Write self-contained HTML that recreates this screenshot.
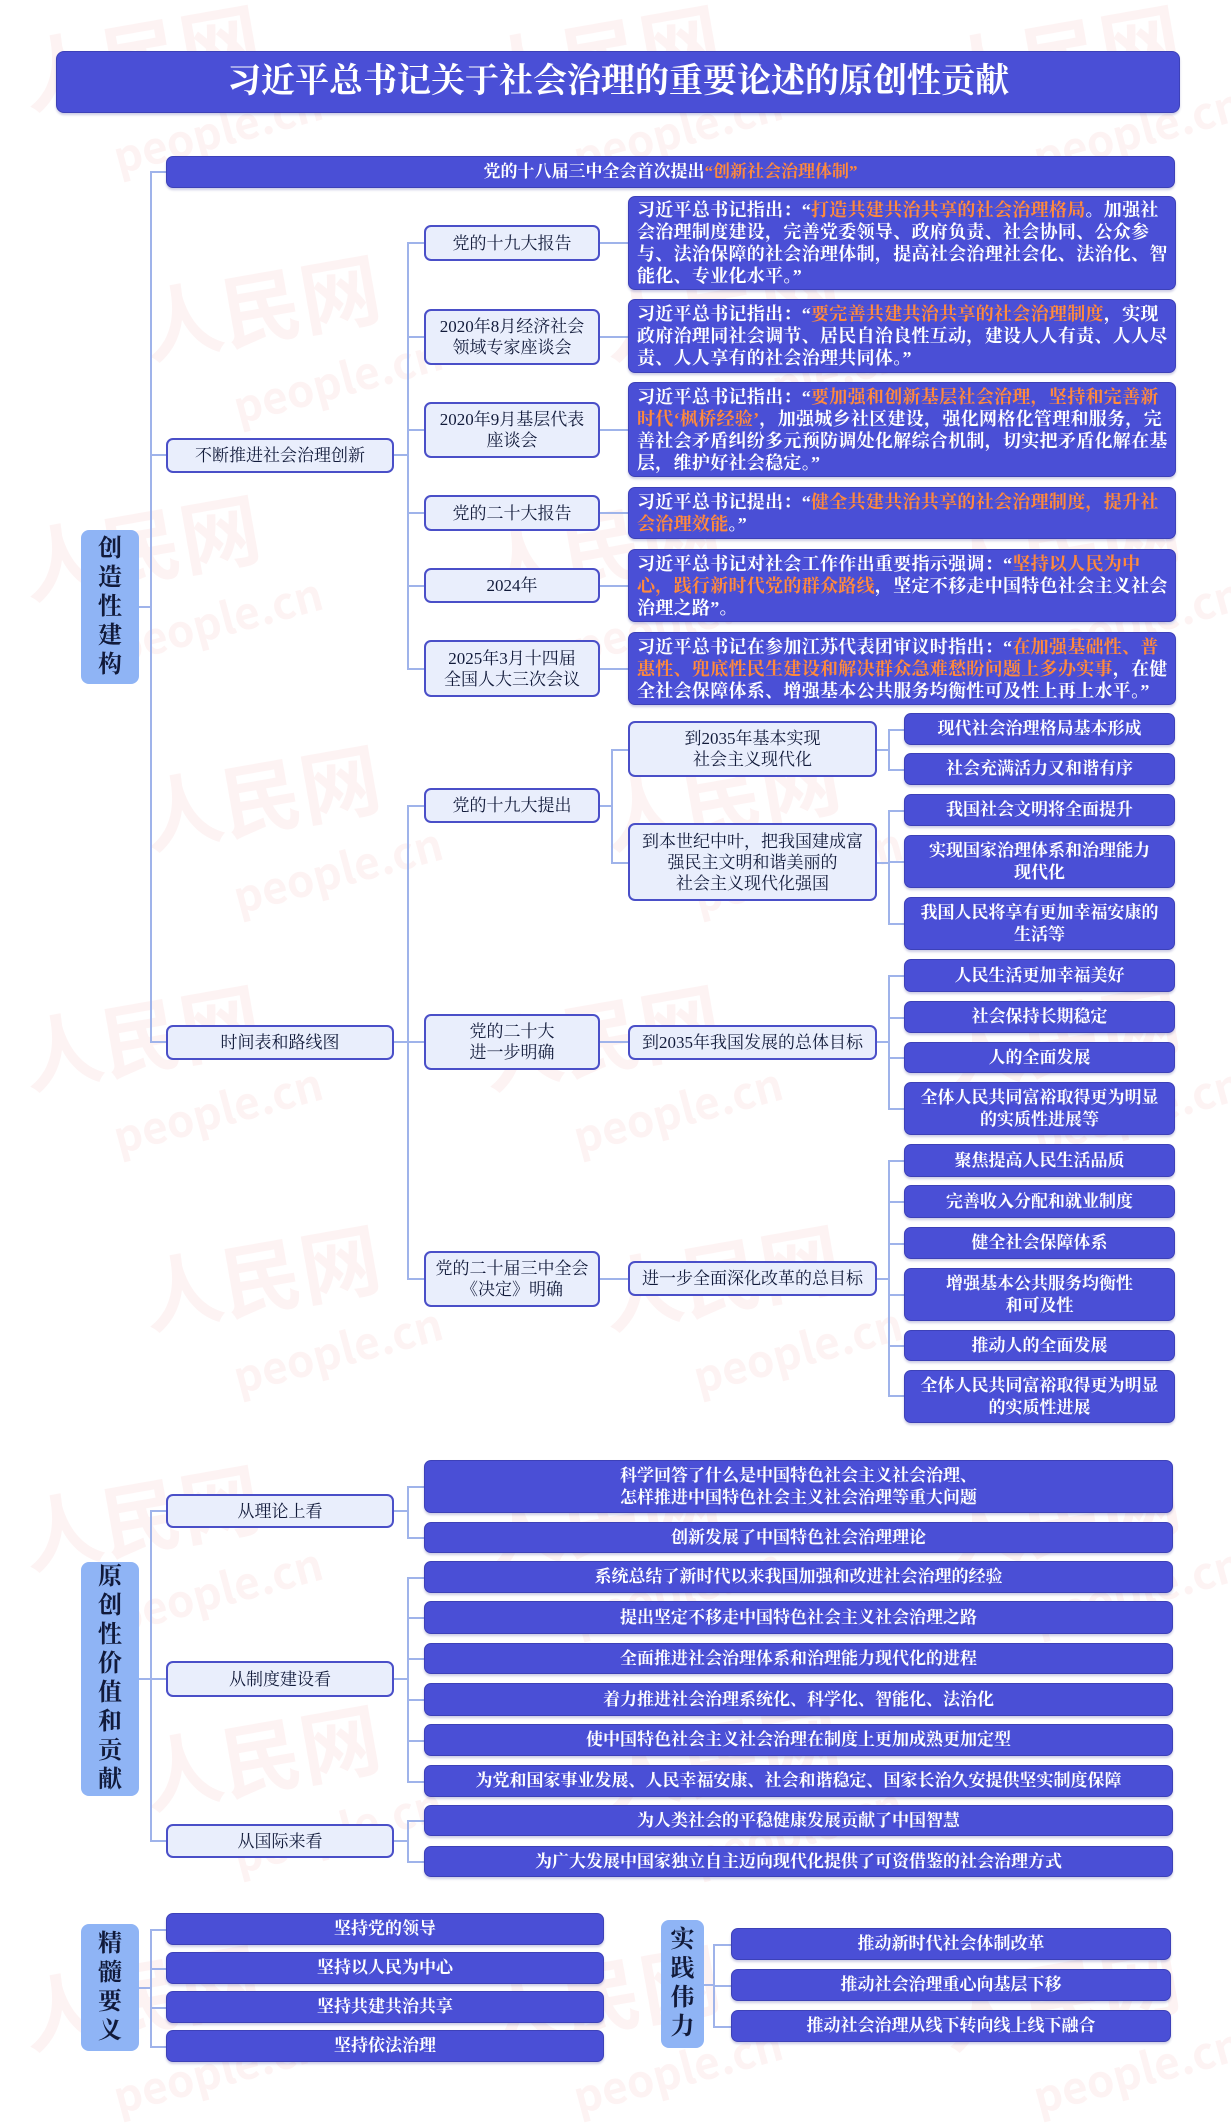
<!DOCTYPE html>
<html><head><meta charset="utf-8">
<style>
*{margin:0;padding:0;box-sizing:border-box}
body{width:1231px;height:2114px;background:#fff;position:relative;overflow:hidden;font-family:"Liberation Serif","Noto Serif CJK SC",serif;}
.wm{position:absolute;color:rgba(225,90,90,0.07);font-family:"Noto Sans CJK SC",sans-serif;font-weight:bold;white-space:nowrap;}
.wm .a{font-size:80px;display:block;transform:rotate(-10deg)}
.wm .b{font-size:44px;display:block;transform:rotate(-15deg);margin-left:90px;margin-top:-10px}
.d,.l,.q{position:absolute;display:flex;align-items:center;justify-content:center;text-align:center;font-weight:bold;}
.d{background:#4a4fd6;border:1.5px solid #3d41b8;border-radius:7px;color:#fff;font-size:17px;line-height:22px;box-shadow:0 2px 2px rgba(60,60,150,0.25)}
.l{background:#e9eefc;border:2px solid #4a4fc8;border-radius:7px;color:#111a3a;font-size:17px;line-height:21px;font-weight:normal}
.q{background:#4a4fd6;border:1.5px solid #3d41b8;border-radius:7px;color:#fff;font-size:18px;letter-spacing:0.3px;line-height:22px;text-align:left;justify-content:flex-start;padding:0 5px 0 8px;box-shadow:0 2px 2px rgba(60,60,150,0.25)}
.o{color:#ff8a3d}
.lab{position:absolute;background:#8fb4f5;border-radius:8px;color:#111a3a;font-size:24px;font-weight:bold;display:flex;align-items:center;justify-content:center;text-align:center;line-height:29px;width:58px}
.h,.v{position:absolute;background:#9fb3ea}
.h{height:2px}.v{width:2px}
</style></head><body>

<div class="wm" style="left:20px;top:-10px"><span class="a">人民网</span><span class="b">people.cn</span></div>
<div class="wm" style="left:480px;top:-10px"><span class="a">人民网</span><span class="b">people.cn</span></div>
<div class="wm" style="left:940px;top:-10px"><span class="a">人民网</span><span class="b">people.cn</span></div>
<div class="wm" style="left:140px;top:240px"><span class="a">人民网</span><span class="b">people.cn</span></div>
<div class="wm" style="left:600px;top:240px"><span class="a">人民网</span><span class="b">people.cn</span></div>
<div class="wm" style="left:20px;top:480px"><span class="a">人民网</span><span class="b">people.cn</span></div>
<div class="wm" style="left:480px;top:480px"><span class="a">人民网</span><span class="b">people.cn</span></div>
<div class="wm" style="left:940px;top:480px"><span class="a">人民网</span><span class="b">people.cn</span></div>
<div class="wm" style="left:140px;top:730px"><span class="a">人民网</span><span class="b">people.cn</span></div>
<div class="wm" style="left:600px;top:730px"><span class="a">人民网</span><span class="b">people.cn</span></div>
<div class="wm" style="left:20px;top:970px"><span class="a">人民网</span><span class="b">people.cn</span></div>
<div class="wm" style="left:480px;top:970px"><span class="a">人民网</span><span class="b">people.cn</span></div>
<div class="wm" style="left:940px;top:970px"><span class="a">人民网</span><span class="b">people.cn</span></div>
<div class="wm" style="left:140px;top:1210px"><span class="a">人民网</span><span class="b">people.cn</span></div>
<div class="wm" style="left:600px;top:1210px"><span class="a">人民网</span><span class="b">people.cn</span></div>
<div class="wm" style="left:20px;top:1450px"><span class="a">人民网</span><span class="b">people.cn</span></div>
<div class="wm" style="left:480px;top:1450px"><span class="a">人民网</span><span class="b">people.cn</span></div>
<div class="wm" style="left:940px;top:1450px"><span class="a">人民网</span><span class="b">people.cn</span></div>
<div class="wm" style="left:140px;top:1690px"><span class="a">人民网</span><span class="b">people.cn</span></div>
<div class="wm" style="left:600px;top:1690px"><span class="a">人民网</span><span class="b">people.cn</span></div>
<div class="wm" style="left:20px;top:1930px"><span class="a">人民网</span><span class="b">people.cn</span></div>
<div class="wm" style="left:480px;top:1930px"><span class="a">人民网</span><span class="b">people.cn</span></div>
<div class="wm" style="left:940px;top:1930px"><span class="a">人民网</span><span class="b">people.cn</span></div>

<!-- title -->
<div class="d" style="left:56px;top:51px;width:1124px;height:62px;font-size:34px;border-radius:8px">习近平总书记关于社会治理的重要论述的原创性贡献</div>

<!-- section 1 connectors -->
<div class="v" style="left:150px;top:172px;height:871px"></div>
<div class="h" style="left:150px;top:171px;width:16px"></div>
<div class="h" style="left:150px;top:454px;width:16px"></div>
<div class="h" style="left:150px;top:1041px;width:16px"></div>
<div class="h" style="left:139px;top:606px;width:12px"></div>
<div class="h" style="left:394px;top:454px;width:14px"></div>
<div class="v" style="left:407px;top:243px;height:426px"></div>
<div class="h" style="left:407px;top:242px;width:17px"></div>
<div class="h" style="left:407px;top:336px;width:17px"></div>
<div class="h" style="left:407px;top:429px;width:17px"></div>
<div class="h" style="left:407px;top:512px;width:17px"></div>
<div class="h" style="left:407px;top:585px;width:17px"></div>
<div class="h" style="left:407px;top:668px;width:17px"></div>
<div class="h" style="left:600px;top:242px;width:28px"></div>
<div class="h" style="left:600px;top:336px;width:28px"></div>
<div class="h" style="left:600px;top:429px;width:28px"></div>
<div class="h" style="left:600px;top:512px;width:28px"></div>
<div class="h" style="left:600px;top:585px;width:28px"></div>
<div class="h" style="left:600px;top:668px;width:28px"></div>

<!-- timeline connectors -->
<div class="h" style="left:394px;top:1041px;width:14px"></div>
<div class="v" style="left:407px;top:805px;height:475px"></div>
<div class="h" style="left:407px;top:805px;width:17px"></div>
<div class="h" style="left:407px;top:1041px;width:17px"></div>
<div class="h" style="left:407px;top:1278px;width:17px"></div>
<div class="h" style="left:600px;top:805px;width:12px"></div>
<div class="v" style="left:611px;top:749px;height:114px"></div>
<div class="h" style="left:611px;top:749px;width:17px"></div>
<div class="h" style="left:611px;top:862px;width:17px"></div>
<div class="h" style="left:600px;top:1041px;width:28px"></div>
<div class="h" style="left:600px;top:1278px;width:28px"></div>
<div class="h" style="left:877px;top:749px;width:12px"></div>
<div class="h" style="left:877px;top:862px;width:12px"></div>
<div class="h" style="left:877px;top:1041px;width:12px"></div>
<div class="h" style="left:877px;top:1278px;width:12px"></div>
<div class="v" style="left:888px;top:729px;height:41px"></div>
<div class="v" style="left:888px;top:810px;height:114px"></div>
<div class="v" style="left:888px;top:975px;height:134px"></div>
<div class="v" style="left:888px;top:1160px;height:236px"></div>
<div class="h" style="left:888px;top:729px;width:16px"></div>
<div class="h" style="left:888px;top:769px;width:16px"></div>
<div class="h" style="left:888px;top:810px;width:16px"></div>
<div class="h" style="left:888px;top:861px;width:16px"></div>
<div class="h" style="left:888px;top:923px;width:16px"></div>
<div class="h" style="left:888px;top:975px;width:16px"></div>
<div class="h" style="left:888px;top:1017px;width:16px"></div>
<div class="h" style="left:888px;top:1057px;width:16px"></div>
<div class="h" style="left:888px;top:1108px;width:16px"></div>
<div class="h" style="left:888px;top:1160px;width:16px"></div>
<div class="h" style="left:888px;top:1201px;width:16px"></div>
<div class="h" style="left:888px;top:1243px;width:16px"></div>
<div class="h" style="left:888px;top:1294px;width:16px"></div>
<div class="h" style="left:888px;top:1345px;width:16px"></div>
<div class="h" style="left:888px;top:1395px;width:16px"></div>

<!-- section 1 nodes -->
<div class="lab" style="left:81px;top:530px;height:154px">创<br>造<br>性<br>建<br>构</div>
<div class="d" style="left:166px;top:156px;width:1009px;height:32px">党的十八届三中全会首次提出<span class="o">“创新社会治理体制”</span></div>
<div class="l" style="left:166px;top:438px;width:228px;height:35px">不断推进社会治理创新</div>
<div class="l" style="left:424px;top:225px;width:176px;height:36px">党的十九大报告</div>
<div class="l" style="left:424px;top:309px;width:176px;height:56px">2020年8月经济社会<br>领域专家座谈会</div>
<div class="l" style="left:424px;top:402px;width:176px;height:56px">2020年9月基层代表<br>座谈会</div>
<div class="l" style="left:424px;top:495px;width:176px;height:36px">党的二十大报告</div>
<div class="l" style="left:424px;top:568px;width:176px;height:35px">2024年</div>
<div class="l" style="left:424px;top:640px;width:176px;height:57px">2025年3月十四届<br>全国人大三次会议</div>

<div class="q" style="left:628px;top:196px;width:548px;height:94px"><div>习近平总书记指出：“<span class="o">打造共建共治共享的社会治理格局</span>。加强社会治理制度建设，完善党委领导、政府负责、社会协同、公众参与、法治保障的社会治理体制，提高社会治理社会化、法治化、智能化、专业化水平。”</div></div>
<div class="q" style="left:628px;top:299px;width:548px;height:74px"><div>习近平总书记指出：“<span class="o">要完善共建共治共享的社会治理制度</span>，实现政府治理同社会调节、居民自治良性互动，建设人人有责、人人尽责、人人享有的社会治理共同体。”</div></div>
<div class="q" style="left:628px;top:382px;width:548px;height:95px"><div>习近平总书记指出：“<span class="o">要加强和创新基层社会治理，坚持和完善新时代‘枫桥经验’</span>，加强城乡社区建设，强化网格化管理和服务，完善社会矛盾纠纷多元预防调处化解综合机制，切实把矛盾化解在基层，维护好社会稳定。”</div></div>
<div class="q" style="left:628px;top:487px;width:548px;height:52px"><div>习近平总书记提出：“<span class="o">健全共建共治共享的社会治理制度，提升社会治理效能</span>。”</div></div>
<div class="q" style="left:628px;top:549px;width:548px;height:73px"><div>习近平总书记对社会工作作出重要指示强调：“<span class="o">坚持以人民为中心，践行新时代党的群众路线</span>，坚定不移走中国特色社会主义社会治理之路”。</div></div>
<div class="q" style="left:628px;top:632px;width:548px;height:73px"><div>习近平总书记在参加江苏代表团审议时指出：“<span class="o">在加强基础性、普惠性、兜底性民生建设和解决群众急难愁盼问题上多办实事</span>，在健全社会保障体系、增强基本公共服务均衡性可及性上再上水平。”</div></div>

<!-- timeline nodes -->
<div class="l" style="left:166px;top:1025px;width:228px;height:35px">时间表和路线图</div>
<div class="l" style="left:424px;top:788px;width:176px;height:35px">党的十九大提出</div>
<div class="l" style="left:424px;top:1014px;width:176px;height:56px">党的二十大<br>进一步明确</div>
<div class="l" style="left:424px;top:1251px;width:176px;height:56px">党的二十届三中全会<br>《决定》明确</div>
<div class="l" style="left:628px;top:721px;width:249px;height:56px">到2035年基本实现<br>社会主义现代化</div>
<div class="l" style="left:628px;top:823px;width:249px;height:78px">到本世纪中叶，把我国建成富<br>强民主文明和谐美丽的<br>社会主义现代化强国</div>
<div class="l" style="left:628px;top:1025px;width:249px;height:35px">到2035年我国发展的总体目标</div>
<div class="l" style="left:628px;top:1261px;width:249px;height:35px">进一步全面深化改革的总目标</div>

<div class="d" style="left:904px;top:713px;width:271px;height:32px">现代社会治理格局基本形成</div>
<div class="d" style="left:904px;top:753px;width:271px;height:32px">社会充满活力又和谐有序</div>
<div class="d" style="left:904px;top:794px;width:271px;height:32px">我国社会文明将全面提升</div>
<div class="d" style="left:904px;top:835px;width:271px;height:53px">实现国家治理体系和治理能力<br>现代化</div>
<div class="d" style="left:904px;top:897px;width:271px;height:53px">我国人民将享有更加幸福安康的<br>生活等</div>
<div class="d" style="left:904px;top:959px;width:271px;height:33px">人民生活更加幸福美好</div>
<div class="d" style="left:904px;top:1001px;width:271px;height:32px">社会保持长期稳定</div>
<div class="d" style="left:904px;top:1042px;width:271px;height:31px">人的全面发展</div>
<div class="d" style="left:904px;top:1082px;width:271px;height:53px">全体人民共同富裕取得更为明显<br>的实质性进展等</div>
<div class="d" style="left:904px;top:1144px;width:271px;height:33px">聚焦提高人民生活品质</div>
<div class="d" style="left:904px;top:1185px;width:271px;height:33px">完善收入分配和就业制度</div>
<div class="d" style="left:904px;top:1227px;width:271px;height:32px">健全社会保障体系</div>
<div class="d" style="left:904px;top:1268px;width:271px;height:53px">增强基本公共服务均衡性<br>和可及性</div>
<div class="d" style="left:904px;top:1330px;width:271px;height:31px">推动人的全面发展</div>
<div class="d" style="left:904px;top:1370px;width:271px;height:53px">全体人民共同富裕取得更为明显<br>的实质性进展</div>

<!-- section 2 -->
<div class="v" style="left:150px;top:1511px;height:331px"></div>
<div class="h" style="left:150px;top:1510px;width:16px"></div>
<div class="h" style="left:150px;top:1678px;width:16px"></div>
<div class="h" style="left:150px;top:1840px;width:16px"></div>
<div class="h" style="left:139px;top:1678px;width:12px"></div>
<div class="h" style="left:394px;top:1510px;width:14px"></div>
<div class="h" style="left:394px;top:1678px;width:14px"></div>
<div class="h" style="left:394px;top:1840px;width:14px"></div>
<div class="v" style="left:407px;top:1486px;height:52px"></div>
<div class="v" style="left:407px;top:1577px;height:205px"></div>
<div class="v" style="left:407px;top:1820px;height:42px"></div>
<div class="h" style="left:407px;top:1486px;width:17px"></div>
<div class="h" style="left:407px;top:1537px;width:17px"></div>
<div class="h" style="left:407px;top:1577px;width:17px"></div>
<div class="h" style="left:407px;top:1617px;width:17px"></div>
<div class="h" style="left:407px;top:1658px;width:17px"></div>
<div class="h" style="left:407px;top:1699px;width:17px"></div>
<div class="h" style="left:407px;top:1740px;width:17px"></div>
<div class="h" style="left:407px;top:1781px;width:17px"></div>
<div class="h" style="left:407px;top:1820px;width:17px"></div>
<div class="h" style="left:407px;top:1861px;width:17px"></div>

<div class="lab" style="left:81px;top:1562px;height:234px">原<br>创<br>性<br>价<br>值<br>和<br>贡<br>献</div>
<div class="l" style="left:166px;top:1494px;width:228px;height:34px">从理论上看</div>
<div class="l" style="left:166px;top:1661px;width:228px;height:36px">从制度建设看</div>
<div class="l" style="left:166px;top:1824px;width:228px;height:34px">从国际来看</div>

<div class="d" style="left:424px;top:1460px;width:749px;height:53px">科学回答了什么是中国特色社会主义社会治理、<br>怎样推进中国特色社会主义社会治理等重大问题</div>
<div class="d" style="left:424px;top:1522px;width:749px;height:31px">创新发展了中国特色社会治理理论</div>
<div class="d" style="left:424px;top:1561px;width:749px;height:32px">系统总结了新时代以来我国加强和改进社会治理的经验</div>
<div class="d" style="left:424px;top:1601px;width:749px;height:33px">提出坚定不移走中国特色社会主义社会治理之路</div>
<div class="d" style="left:424px;top:1643px;width:749px;height:31px">全面推进社会治理体系和治理能力现代化的进程</div>
<div class="d" style="left:424px;top:1683px;width:749px;height:33px">着力推进社会治理系统化、科学化、智能化、法治化</div>
<div class="d" style="left:424px;top:1724px;width:749px;height:32px">使中国特色社会主义社会治理在制度上更加成熟更加定型</div>
<div class="d" style="left:424px;top:1765px;width:749px;height:32px">为党和国家事业发展、人民幸福安康、社会和谐稳定、国家长治久安提供坚实制度保障</div>
<div class="d" style="left:424px;top:1805px;width:749px;height:31px">为人类社会的平稳健康发展贡献了中国智慧</div>
<div class="d" style="left:424px;top:1846px;width:749px;height:31px">为广大发展中国家独立自主迈向现代化提供了可资借鉴的社会治理方式</div>

<!-- bottom left -->
<div class="v" style="left:150px;top:1929px;height:118px"></div>
<div class="h" style="left:139px;top:1987px;width:12px"></div>
<div class="h" style="left:150px;top:1929px;width:16px"></div>
<div class="h" style="left:150px;top:1968px;width:16px"></div>
<div class="h" style="left:150px;top:2007px;width:16px"></div>
<div class="h" style="left:150px;top:2046px;width:16px"></div>
<div class="lab" style="left:81px;top:1924px;height:127px">精<br>髓<br>要<br>义</div>
<div class="d" style="left:166px;top:1913px;width:438px;height:32px">坚持党的领导</div>
<div class="d" style="left:166px;top:1952px;width:438px;height:32px">坚持以人民为中心</div>
<div class="d" style="left:166px;top:1991px;width:438px;height:32px">坚持共建共治共享</div>
<div class="d" style="left:166px;top:2030px;width:438px;height:32px">坚持依法治理</div>

<!-- bottom right -->
<div class="v" style="left:713px;top:1944px;height:83px"></div>
<div class="h" style="left:704px;top:1984px;width:10px"></div>
<div class="h" style="left:713px;top:1944px;width:18px"></div>
<div class="h" style="left:713px;top:1985px;width:18px"></div>
<div class="h" style="left:713px;top:2026px;width:18px"></div>
<div class="lab" style="left:661px;top:1920px;height:128px;width:43px">实<br>践<br>伟<br>力</div>
<div class="d" style="left:731px;top:1928px;width:440px;height:32px">推动新时代社会体制改革</div>
<div class="d" style="left:731px;top:1969px;width:440px;height:32px">推动社会治理重心向基层下移</div>
<div class="d" style="left:731px;top:2010px;width:440px;height:32px">推动社会治理从线下转向线上线下融合</div>

</body></html>
